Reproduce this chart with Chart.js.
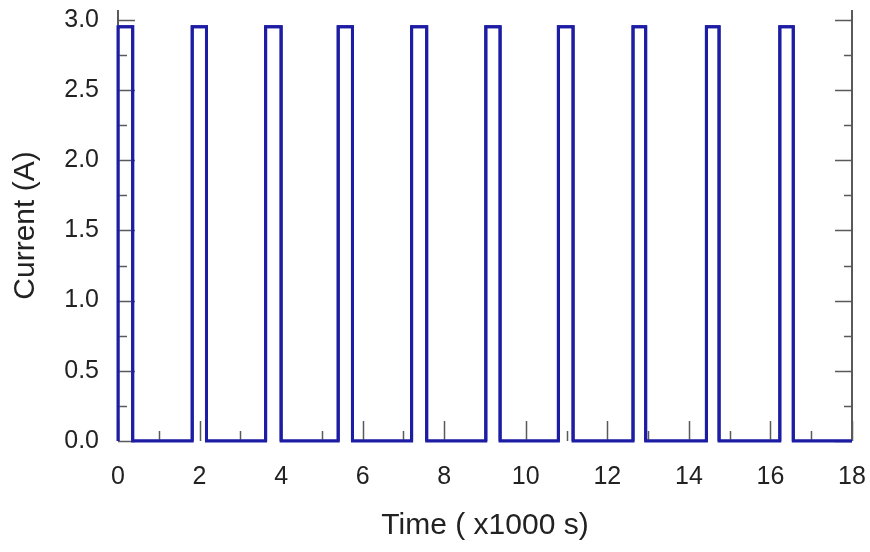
<!DOCTYPE html>
<html>
<head>
<meta charset="utf-8">
<script src="https://cdn.jsdelivr.net/npm/chart.js@4.4.1/dist/chart.umd.min.js"></script>
<style>
  html, body { margin: 0; padding: 0; background: #fff; }
  #wrap { width: 870px; height: 552px; }
</style>
</head>
<body>
<div id="wrap"><canvas id="chartCurrent"></canvas></div>
<script>
// pulse edges in units of 1000 s
const pulseOn = [0, 1.82, 3.62, 5.40, 7.20, 9.02, 10.80, 12.63, 14.43, 16.23];
const pulseOff = [0.36, 2.17, 4.00, 5.75, 7.57, 9.37, 11.16, 12.94, 14.74, 16.56];
const pulseLevel = 2.95;
const baseLevel = 0;
const timeEnd = 18;

const xMajorTicks = [0, 2, 4, 6, 8, 10, 12, 14, 16, 18];
const xMinorTicks = [1, 3, 5, 7, 9, 11, 13, 15, 17];
const yMajorTicks = [0, 0.5, 1.0, 1.5, 2.0, 2.5, 3.0];
const yMinorTicks = [0.25, 0.75, 1.25, 1.75, 2.25, 2.75];

function buildSquareWave() {
  const points = [];
  for (let i = 0; i < pulseOn.length; i++) {
    points.push({ x: pulseOn[i], y: baseLevel });
    points.push({ x: pulseOn[i], y: pulseLevel });
    points.push({ x: pulseOff[i], y: pulseLevel });
    points.push({ x: pulseOff[i], y: baseLevel });
  }
  points.push({ x: timeEnd, y: baseLevel });
  return points;
}

// frame and inward tick marks, drawn from the scales
const frameTicks = {
  id: 'frameTicks',
  afterDatasetsDraw(chart) {
    const { ctx, chartArea, scales } = chart;
    const { left, right, top, bottom } = chartArea;
    ctx.save();
    ctx.strokeStyle = '#5a5a5a';
    ctx.lineWidth = 2;
    ctx.beginPath();
    ctx.moveTo(left, top);
    ctx.lineTo(left, bottom);
    ctx.moveTo(right, top);
    ctx.lineTo(right, bottom);
    ctx.stroke();

    ctx.lineWidth = 1.5;
    ctx.beginPath();
    yMajorTicks.forEach(v => {
      const py = Math.round(scales.y.getPixelForValue(v)) + 0.5;
      ctx.moveTo(left, py); ctx.lineTo(left + 17, py);
      ctx.moveTo(right, py); ctx.lineTo(right - 17, py);
    });
    yMinorTicks.forEach(v => {
      const py = Math.round(scales.y.getPixelForValue(v)) + 0.5;
      ctx.moveTo(left, py); ctx.lineTo(left + 9, py);
      ctx.moveTo(right, py); ctx.lineTo(right - 8, py);
    });
    xMajorTicks.forEach(v => {
      const px = Math.round(scales.x.getPixelForValue(v)) + 0.5;
      ctx.moveTo(px, bottom); ctx.lineTo(px, bottom - 20);
    });
    xMinorTicks.forEach(v => {
      const px = Math.round(scales.x.getPixelForValue(v)) + 0.5;
      ctx.moveTo(px, bottom); ctx.lineTo(px, bottom - 10);
    });
    ctx.stroke();
    ctx.restore();
  }
};

// the wave is drawn above the tick marks
const redrawWave = {
  id: 'redrawWave',
  afterDraw(chart) {
    const meta = chart.getDatasetMeta(0);
    const ctx = chart.ctx;
    ctx.save();
    meta.dataset.draw(ctx, chart.chartArea);
    ctx.restore();
  }
};

const tickFont = { family: 'Liberation Sans', size: 25 };
const titleFont = { family: 'Liberation Sans', size: 30 };

new Chart(document.getElementById('chartCurrent'), {
  type: 'line',
  data: {
    datasets: [{
      label: 'Current',
      data: buildSquareWave(),
      borderColor: '#1c1ca4',
      borderWidth: 3,
      pointRadius: 0,
      fill: false,
      tension: 0
    }]
  },
  options: {
    responsive: true,
    maintainAspectRatio: false,
    animation: false,
    layout: { padding: { top: 10, right: 18, left: 0, bottom: 0 } },
    plugins: { legend: { display: false }, tooltip: { enabled: false } },
    scales: {
      x: {
        type: 'linear',
        min: 0,
        max: timeEnd,
        grid: { display: false, drawTicks: false },
        border: { display: false },
        afterBuildTicks: scale => { scale.ticks = xMajorTicks.map(v => ({ value: v })); },
        afterFit: scale => {
          scale.height = 111;
          scale.paddingLeft = 0;
          scale.paddingRight = 0;
        },
        ticks: { font: tickFont, color: '#222', padding: 21, maxRotation: 0, autoSkip: false },
        title: {
          display: true,
          text: 'Time ( x1000 s)',
          font: titleFont,
          color: '#222',
          padding: { top: 0, bottom: 8 }
        }
      },
      y: {
        type: 'linear',
        min: 0,
        max: 3.07,
        grid: { display: false, drawTicks: false },
        border: { display: false },
        afterBuildTicks: scale => { scale.ticks = yMajorTicks.map(v => ({ value: v })); },
        afterFit: scale => {
          scale.width = 118;
          scale.paddingTop = 0;
          scale.paddingBottom = 0;
        },
        ticks: {
          font: tickFont,
          color: '#222',
          padding: 19,
          callback: v => Number(v).toFixed(1)
        },
        title: {
          display: true,
          text: 'Current (A)',
          font: titleFont,
          color: '#222',
          padding: { top: 8, bottom: 0 }
        }
      }
    }
  },
  plugins: [frameTicks, redrawWave]
});
</script>
</body>
</html>
